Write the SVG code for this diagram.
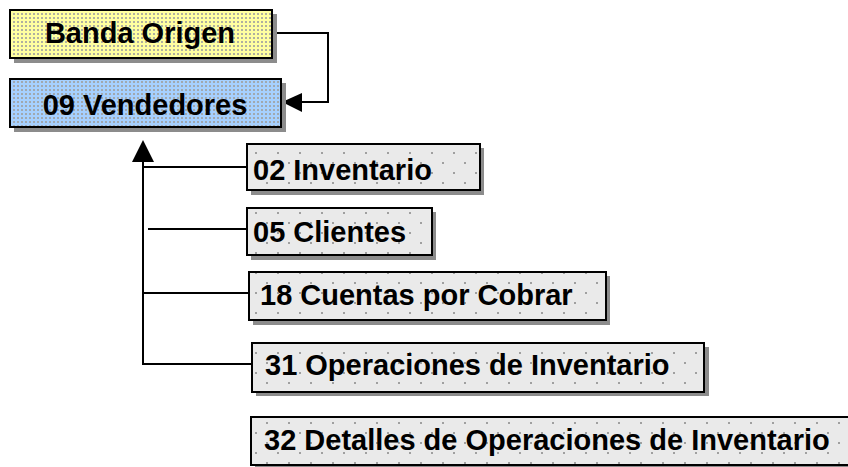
<svg xmlns="http://www.w3.org/2000/svg" width="848" height="467" viewBox="0 0 848 467">
  <defs>
    <pattern id="pYellow" width="4" height="4" patternUnits="userSpaceOnUse">
      <rect width="4" height="4" fill="#FFFFA0"/>
      <rect x="1" y="1" width="2" height="2" fill="#B0B0A0"/>
    </pattern>
    <pattern id="pBlue" width="4" height="4" patternUnits="userSpaceOnUse">
      <rect width="4" height="4" fill="#A6D0FF"/>
      <rect x="1" y="1" width="2" height="2" fill="#A0A8B0"/>
    </pattern>
    <pattern id="pGray" width="22" height="20" patternUnits="userSpaceOnUse">
      <rect width="22" height="20" fill="#EAEAEA"/>
      <rect x="2" y="2" width="2" height="2" fill="#A0A0A0"/>
      <rect x="13" y="12" width="2" height="2" fill="#A0A0A0"/>
    </pattern>
  </defs>
  <style>
    .shadow { fill: #8C8C8C; }
    .box { stroke: #000; stroke-width: 2; }
    .lbl { font-family: "Liberation Sans", Arial, sans-serif; font-weight: bold; font-size: 29px; fill: #000; }
    .conn { stroke: #000; stroke-width: 2; fill: none; }
    .head { fill: #000; }
  </style>
  <rect width="848" height="467" fill="#FFFFFF"/>

  <g id="connectors">
    <polyline class="conn" points="273,33 328,33 328,102 300,102"/>
    <polygon class="head" points="282,102 302,93 302,112"/>
    <line class="conn" x1="143" y1="160" x2="143" y2="365"/>
    <polygon class="head" points="143,140 132,162 154,162"/>
    <line class="conn" x1="143" y1="167" x2="247" y2="167"/>
    <line class="conn" x1="148" y1="229" x2="247" y2="229"/>
    <line class="conn" x1="143" y1="293" x2="249" y2="293"/>
    <line class="conn" x1="142" y1="364" x2="252" y2="364"/>
  </g>

  <g id="banda-origen">
    <rect class="shadow" x="14" y="14" width="263" height="49"/>
    <rect class="box" x="10" y="10" width="262" height="48" fill="url(#pYellow)"/>
    <text class="lbl" x="140" y="43" text-anchor="middle">Banda Origen</text>
  </g>

  <g id="vendedores">
    <rect class="shadow" x="14" y="83" width="272" height="49"/>
    <rect class="box" x="10" y="79" width="271" height="48" fill="url(#pBlue)"/>
    <text class="lbl" x="145" y="115" text-anchor="middle">09 Vendedores</text>
  </g>

  <g id="inventario">
    <rect class="shadow" x="251" y="148" width="233" height="47"/>
    <rect class="box" x="247" y="144" width="233" height="46" fill="url(#pGray)"/>
    <text class="lbl" x="253" y="180">02 Inventario</text>
  </g>

  <g id="clientes">
    <rect class="shadow" x="251" y="212" width="185" height="48"/>
    <rect class="box" x="247" y="208" width="185" height="47" fill="url(#pGray)"/>
    <text class="lbl" x="253" y="242">05 Clientes</text>
  </g>

  <g id="cuentas-por-cobrar">
    <rect class="shadow" x="253" y="276" width="357" height="49"/>
    <rect class="box" x="249" y="272" width="357" height="48" fill="url(#pGray)"/>
    <text class="lbl" x="260" y="305">18 Cuentas por Cobrar</text>
  </g>

  <g id="operaciones-inventario">
    <rect class="shadow" x="256" y="347" width="453" height="49"/>
    <rect class="box" x="252" y="343" width="452" height="49" fill="url(#pGray)"/>
    <text class="lbl" x="265" y="375">31 Operaciones de Inventario</text>
  </g>

  <g id="detalles-operaciones-inventario">
    <rect class="shadow" x="255" y="421" width="600" height="49"/>
    <rect class="box" x="251" y="417" width="600" height="48" fill="url(#pGray)"/>
    <text class="lbl" x="264" y="450">32 Detalles de Operaciones de Inventario</text>
  </g>
</svg>
